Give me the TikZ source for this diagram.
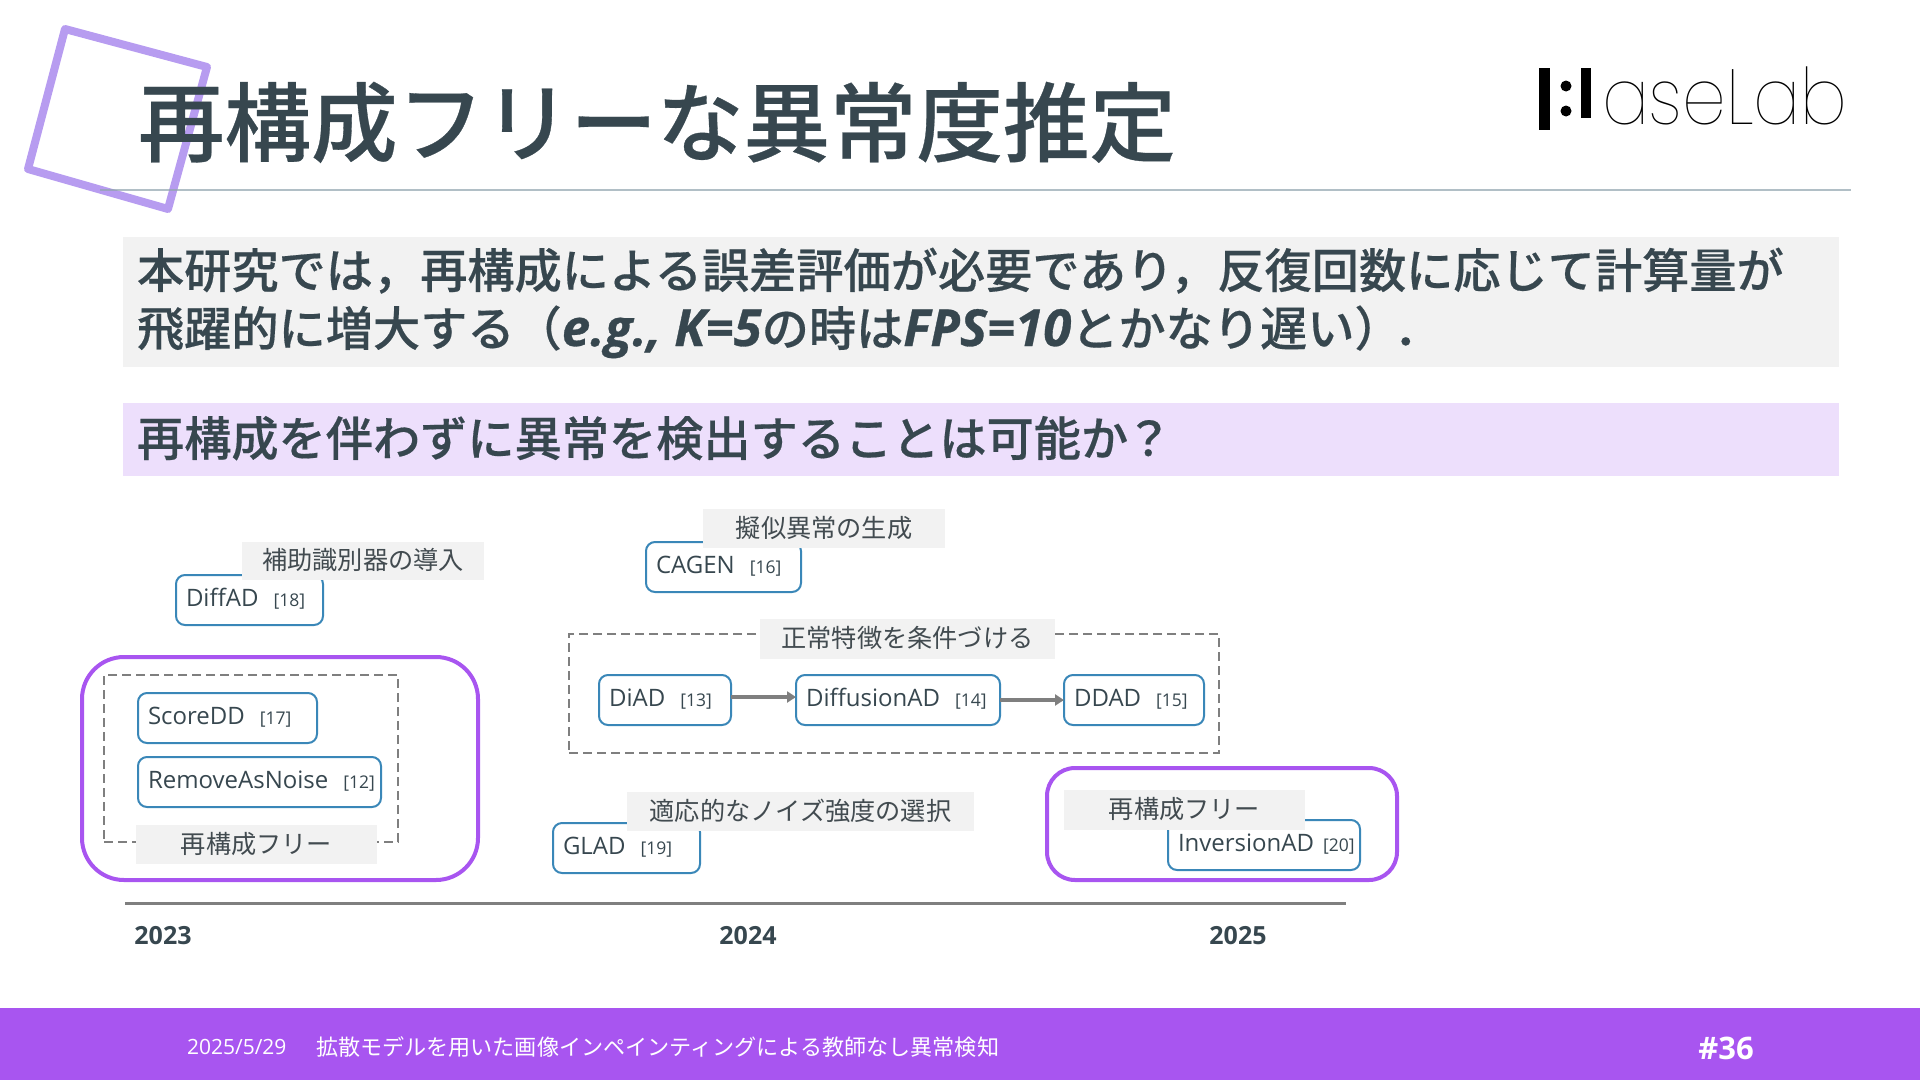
\documentclass[tikz,border=0pt]{standalone}
\usepackage{fontspec}
\usetikzlibrary{arrows.meta}
\setmainfont{Open Sans}
\newfontfamily\cjk{Noto Sans CJK JP}
\newfontfamily\cjkm[FakeBold=0.35]{Noto Sans CJK JP Medium}
\newfontfamily\logofont{Poppins Thin}
\definecolor{ink}{HTML}{37474F}
\definecolor{tagink}{HTML}{424B50}
\definecolor{purp}{HTML}{A855F0}
\definecolor{sq}{HTML}{B79CF0}
\definecolor{boxblue}{HTML}{3A87B8}
\definecolor{tagbg}{HTML}{F2F2F2}
\definecolor{qbg}{HTML}{EDDFFC}
\definecolor{rulec}{HTML}{90A4AE}
\definecolor{dashc}{HTML}{7F7F7F}
\newcommand{\fs}[1]{\fontsize{#1}{#1}\selectfont}
\newcommand{\rf}[1]{{\fs{17.5}[#1]}}
\newcommand{\lt}[1]{{\normalfont\bfseries\itshape\fs{51}\addfontfeature{FakeBold=0.6}#1}}
\tikzset{
  x=1pt,y=-1pt,outer sep=0pt,
  nbox/.style={draw=boxblue,line width=2pt,rounded corners=9pt,fill=white,anchor=north west,
    inner xsep=10pt,inner ysep=0pt,text width=#1-20pt,align=left,minimum height=50pt,
    text height=12pt,text depth=0pt,text=ink,font=\fs{24}},
  tag/.style={fill=tagbg,anchor=north west,inner sep=0pt,text=tagink,font=\cjk\fs{25.2},align=center,
    text height=17.5pt,text depth=0pt},
  dashframe/.style={draw=dashc,line width=2pt,dash pattern=on 9pt off 5pt,anchor=north west,inner sep=0pt},
  purpframe/.style={draw=purp,line width=4pt,anchor=north west,inner sep=0pt},
  flow/.style={draw=dashc,line width=3.5pt,-{Triangle[length=9pt,width=11pt]}},
  body/.style={anchor=base west,inner sep=0pt,text=ink,font=\cjkm\fs{47.2}},
  year/.style={anchor=center,inner sep=0pt,text=ink,font=\bfseries\fs{25}},
  bandbox/.style={anchor=north west,inner sep=0pt},
}
\begin{document}
\begin{tikzpicture}
\useasboundingbox (0,0) rectangle (1920,1080);
% decoration and header
\draw[sq,line width=8pt,line join=round] (65,29) -- (207,67) -- (168,209) -- (28,169) -- cycle;
\draw[rulec,line width=2pt,opacity=.7] (100,190) -- (1851,190);
\node[anchor=base west,inner sep=0pt,text=ink,font=\cjkm\fs{86.5}] (title) at (138,155) {再構成フリーな異常度推定};
% logo
\fill[black] (1539,68) rectangle (1550,130);
\fill[black] (1581,68) rectangle (1591,118);
\fill[black] (1566,86) circle (5.5);
\fill[black] (1566,111) circle (5.5);
\node[anchor=base west,inner sep=0pt,text=black,font=\logofont\fs{78},xscale=.895] (logo) at (1602,124) {aseLab};
% statements
\node[bandbox,fill=tagbg,minimum width=1716pt,minimum height=130pt] (statement) at (123,237) {};
\node[bandbox,fill=qbg,minimum width=1716pt,minimum height=73pt] (question) at (123,403) {};
\node[body] (l1) at (137,288) {本研究では，再構成による誤差評価が必要であり，反復回数に応じて計算量が};
\node[body] (l2) at (137,346) {飛躍的に増大する（\lt{e.g., K=5}の時は\lt{FPS=10}とかなり遅い）\hspace{-8pt}．};
\node[body] (l3) at (137,456) {再構成を伴わずに異常を検出することは可能か\hspace{-3pt}？};
% 2023 group
\node[purpframe,rounded corners=42pt,minimum width=396pt,minimum height=223pt] (free1) at (82,657) {};
\node[dashframe,minimum width=294pt,minimum height=167pt] (dash1) at (104,675) {};
\node[nbox=179pt] (scoredd) at (138,693) {\mbox{ScoreDD\hspace{15pt}\rf{17}}};
\node[nbox=243pt] (remove) at (138,757) {\mbox{RemoveAsNoise\hspace{15pt}\rf{12}}};
\node[tag,minimum width=241pt,minimum height=39pt] (tagfree1) at (136,825) {再構成フリー};
\node[nbox=147pt] (diffad) at (176,575) {\mbox{DiffAD\hspace{15pt}\rf{18}}};
\node[tag,minimum width=242pt,minimum height=38pt] (tagdiff) at (242,542) {補助識別器の導入};
% 2024 group
\node[nbox=155pt] (cagen) at (646,542) {\mbox{CAGEN\hspace{15pt}\rf{16}}};
\node[tag,minimum width=242pt,minimum height=39pt] (tagcagen) at (703,509) {擬似異常の生成};
\node[dashframe,minimum width=650pt,minimum height=119pt] (dash2) at (569,634) {};
\node[tag,minimum width=295pt,minimum height=40pt] (tagcond) at (760,619) {正常特徴を条件づける};
\node[nbox=132pt] (diad) at (599,675) {\mbox{DiAD\hspace{15pt}\rf{13}}};
\node[nbox=204pt] (diffusionad) at (796,675) {\mbox{DiffusionAD\hspace{15pt}\rf{14}}};
\node[nbox=140pt] (ddad) at (1064,675) {\mbox{DDAD\hspace{15pt}\rf{15}}};
\draw[flow] ([yshift=3pt]diad.east) -- ([yshift=3pt]diffusionad.west);
\draw[flow] (diffusionad.east) -- (ddad.west);
\node[nbox=147pt] (glad) at (553,823) {\mbox{GLAD\hspace{15pt}\rf{19}}};
\node[tag,minimum width=347pt,minimum height=39pt] (tagglad) at (627,792) {適応的なノイズ強度の選択};
% 2025 group
\node[purpframe,rounded corners=28pt,minimum width=350pt,minimum height=112pt] (free2) at (1047,768) {};
\node[nbox=192pt] (inversion) at (1168,820) {\mbox{InversionAD\hspace{9pt}\rf{20}}};
\node[tag,minimum width=241pt,minimum height=40pt] (tagfree2) at (1064,790) {再構成フリー};
% timeline
\coordinate (axisl) at (125,903);
\coordinate (axisr) at (1346,903);
\draw[dashc,line width=3pt] (axisl) -- (axisr);
\node[year] (y2023) at (163,936) {2023};
\node[year] (y2024) at (748,936) {2024};
\node[year] (y2025) at (1238,936) {2025};
% footer
\node[bandbox,fill=purp,minimum width=1920pt,minimum height=72pt] (band) at (0,1008) {};
\node[anchor=west,inner sep=0pt,text=white,font=\fs{21}] (fdate) at (187,1047) {2025/5/29};
\node[anchor=west,inner sep=0pt,text=white,font=\cjk\fs{22.1}] (ftitle) at (316,1047) {拡散モデルを用いた画像インペインティングによる教師なし異常検知};
\node[anchor=center,inner sep=0pt,text=white,font=\bfseries\fs{31}] (fnum) at (1726,1048) {\#36};
\end{tikzpicture}
\end{document}
